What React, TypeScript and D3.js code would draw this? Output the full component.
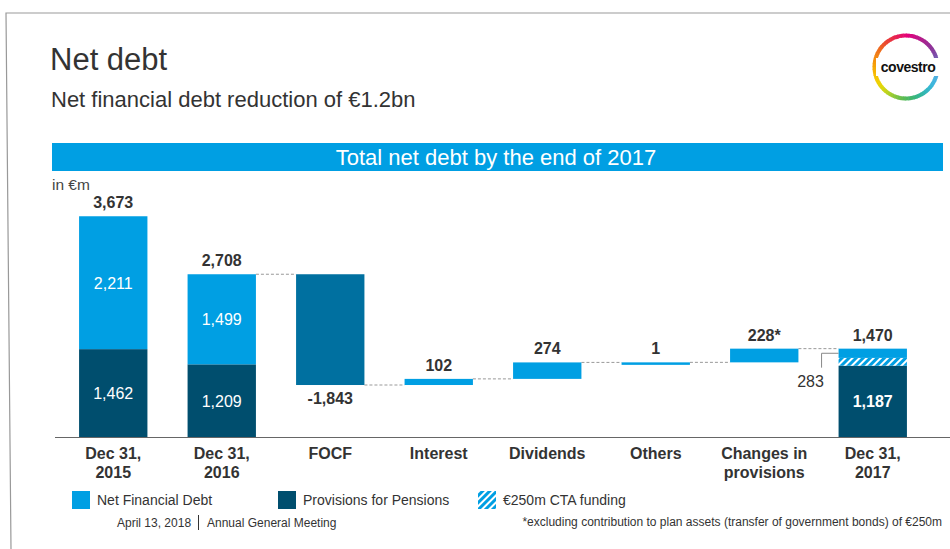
import React from "react";
import * as d3 from "d3";

const categories = ["Dec 31,|2015", "Dec 31,|2016", "FOCF", "Interest", "Dividends", "Others", "Changes in|provisions", "Dec 31,|2017"];
// stacked totals
const nfdValues = [2211, 1499];
const pensionValues = [1462, 1209];
const totalLabels = ["3,673", "2,708"];
// waterfall steps
const stepNames = ["FOCF", "Interest", "Dividends", "Others", "Changes in|provisions"];
const stepValues = [-1843, 102, 274, 1, 228];
const stepLabels = ["-1,843", "102", "274", "1", "228*"];
// final bar
const finalPensions = 1187;
const finalCta = 129;
const finalNfdSolid = 154;
const finalNfdLabel = "283";
const finalTotalLabel = "1,470";

const legendItems = ["Net Financial Debt", "Provisions for Pensions", "€250m CTA funding"];

const LIGHT = "#009FE3";
const DARK = "#004E6E";
const MID = "#0070A0";
const TXT = "#333333";
const FONT = "'Liberation Sans', Arial, sans-serif";

export default function App() {
  const W = 950, H = 549;
  const baseY = 437;
  const y = d3.scaleLinear().domain([0, 3673]).range([baseY, baseY - 3673 * 0.0601]);
  const x = d3.scaleBand<string>().domain(categories).range([59, 927]).paddingInner(0.37).paddingOuter(0.185);
  const bw = x.bandwidth();

  // waterfall computation
  let running = nfdValues[1] + pensionValues[1];
  const steps = stepNames.map((n, i) => {
    const start = running;
    const end = running + stepValues[i];
    running = end;
    return { name: n, start, end, value: stepValues[i], label: stepLabels[i] };
  });

  const connectors: { x1: number; x2: number; v: number }[] = [];
  const prevTop = nfdValues[1] + pensionValues[1];
  connectors.push({ x1: x(categories[1])! + bw, x2: x(steps[0].name)!, v: prevTop });
  steps.forEach((s, i) => {
    const nextName = i < steps.length - 1 ? steps[i + 1].name : categories[7];
    connectors.push({ x1: x(s.name)! + bw, x2: x(nextName)!, v: s.end });
  });

  // logo ring
  const ringStops = ["#e4007c", "#a4248f", "#7b3fa0", "#55b6e8", "#2fb8de", "#30b36b", "#7ac143", "#f4e500", "#f9b000", "#f07a16", "#e8333a", "#e4007c"];
  const ringColor = d3.interpolateRgbBasis(ringStops);
  const ringSegs = d3.range(72).map((i) => {
    const a0 = (i / 72) * 2 * Math.PI;
    const a1 = ((i + 1.2) / 72) * 2 * Math.PI;
    return { d: d3.arc()({ innerRadius: 29.5, outerRadius: 33.5, startAngle: a0, endAngle: a1 })!, c: ringColor(i / 72) };
  });

  const fx = x(categories[7])!;

  return (
    <svg width={W} height={H} style={{ position: "absolute", left: 0, top: 0, fontFamily: FONT }}>
      <defs>
        <pattern id="hatch" patternUnits="userSpaceOnUse" width="5" height="5" patternTransform="rotate(45)">
          <rect width="5" height="5" fill={LIGHT} />
          <rect x="0" y="0" width="2" height="5" fill="#ffffff" />
        </pattern>
      </defs>
      <rect width={W} height={H} fill="#ffffff" />
      <path d="M950,13 L6,13 L11,549" fill="none" stroke="#999" strokeWidth={1.2} />

      <text x={50} y={70} fontSize={31} fill={TXT}>Net debt</text>
      <text x={51} y={107} fontSize={22} fill={TXT}>Net financial debt reduction of €1.2bn</text>

      <g transform="translate(906,67)">
        {ringSegs.map((s, i) => <path key={i} d={s.d} fill={s.c} />)}
        <rect x={-30} y={-9} width={66} height={18} fill="#fff" />
        <text x={2} y={5} textAnchor="middle" fontSize={14} fontWeight="bold" fill="#111" letterSpacing={-0.5}>covestro</text>
      </g>

      <rect x={52} y={143} width={891} height={28} fill={LIGHT} />
      <text x={496} y={165} textAnchor="middle" fontSize={22} fill="#fff">Total net debt by the end of 2017</text>
      <text x={52} y={190} fontSize={15.5} fill="#444">in €m</text>

      {connectors.map((c, i) => (
        <line key={i} x1={c.x1} x2={c.x2} y1={y(c.v)} y2={y(c.v)} stroke="#999" strokeDasharray="3,2" strokeWidth={1} />
      ))}

      {nfdValues.map((v, i) => {
        const cx = x(categories[i])!;
        const p = pensionValues[i];
        return (
          <g key={i}>
            <rect x={cx} y={y(p)} width={bw} height={baseY - y(p)} fill={DARK} />
            <rect x={cx} y={y(p + v)} width={bw} height={y(p) - y(p + v)} fill={LIGHT} />
            <text x={cx + bw / 2} y={(y(p) + y(p + v)) / 2 + 6} textAnchor="middle" fontSize={16} fill="#fff">{d3.format(",")(v)}</text>
            <text x={cx + bw / 2} y={(baseY + y(p)) / 2 + 6} textAnchor="middle" fontSize={16} fill="#fff">{d3.format(",")(p)}</text>
            <text x={cx + bw / 2} y={y(p + v) - 8} textAnchor="middle" fontSize={16} fontWeight="bold" fill={TXT}>{totalLabels[i]}</text>
          </g>
        );
      })}

      {steps.map((s, i) => {
        const sx = x(s.name)!;
        const top = Math.max(s.start, s.end);
        const bot = Math.min(s.start, s.end);
        const h = Math.max(y(bot) - y(top), 2.5);
        const neg = s.value < 0;
        return (
          <g key={i}>
            <rect x={sx} y={y(top)} width={bw} height={h} fill={neg ? MID : LIGHT} />
            <text x={sx + bw / 2} y={neg ? y(bot) + 19 : y(top) - 8} textAnchor="middle" fontSize={16} fontWeight="bold" fill={TXT}>{s.label}</text>
          </g>
        );
      })}

      <g>
        <rect x={fx} y={y(finalPensions)} width={bw} height={baseY - y(finalPensions)} fill={DARK} />
        <rect x={fx} y={y(finalPensions + finalCta)} width={bw} height={y(finalPensions) - y(finalPensions + finalCta)} fill="url(#hatch)" />
        <rect x={fx} y={y(finalPensions + finalCta + finalNfdSolid)} width={bw} height={y(finalPensions + finalCta) - y(finalPensions + finalCta + finalNfdSolid)} fill={LIGHT} />
        <text x={fx + bw / 2} y={(baseY + y(finalPensions)) / 2 + 6} textAnchor="middle" fontSize={16} fontWeight="bold" fill="#fff">{d3.format(",")(finalPensions)}</text>
        <text x={fx + bw / 2} y={y(finalPensions + finalCta + finalNfdSolid) - 8} textAnchor="middle" fontSize={16} fontWeight="bold" fill={TXT}>{finalTotalLabel}</text>
        <path
          d={`M${fx},${y(finalPensions + finalCta + finalNfdSolid / 2)} H${fx - 17} V${y(finalPensions) + 2}`}
          fill="none" stroke="#888" strokeWidth={1} />
        <text x={fx - 28} y={y(finalPensions) + 21} textAnchor="middle" fontSize={16} fill={TXT}>{finalNfdLabel}</text>
      </g>

      <line x1={55} x2={950} y1={baseY + 0.5} y2={baseY + 0.5} stroke="#666" strokeWidth={1.2} />

      {categories.map((c, i) => {
        const lines = c.split("|");
        return (
          <text key={i} x={x(c)! + bw / 2} y={459} textAnchor="middle" fontSize={16} fontWeight="bold" fill={TXT}>
            {lines.map((l, j) => <tspan key={j} x={x(c)! + bw / 2} dy={j === 0 ? 0 : 19}>{l}</tspan>)}
          </text>
        );
      })}

      {legendItems.map((l, i) => {
        const lx = [72, 278, 478][i];
        const fill = i === 0 ? LIGHT : i === 1 ? DARK : "url(#hatch)";
        return (
          <g key={i}>
            <rect x={lx} y={491} width={18} height={18} fill={fill} />
            <text x={lx + 25} y={505} fontSize={14} fill={TXT}>{l}</text>
          </g>
        );
      })}

      <text x={117} y={527} fontSize={12} fill={TXT}>April 13, 2018</text>
      <line x1={198.5} x2={198.5} y1={515} y2={530} stroke={TXT} strokeWidth={1} />
      <text x={207} y={527} fontSize={12} fill={TXT}>Annual General Meeting</text>
      <text x={942} y={526} textAnchor="end" fontSize={12} fill={TXT}>*excluding contribution to plan assets (transfer of government bonds) of €250m</text>
    </svg>
  );
}
